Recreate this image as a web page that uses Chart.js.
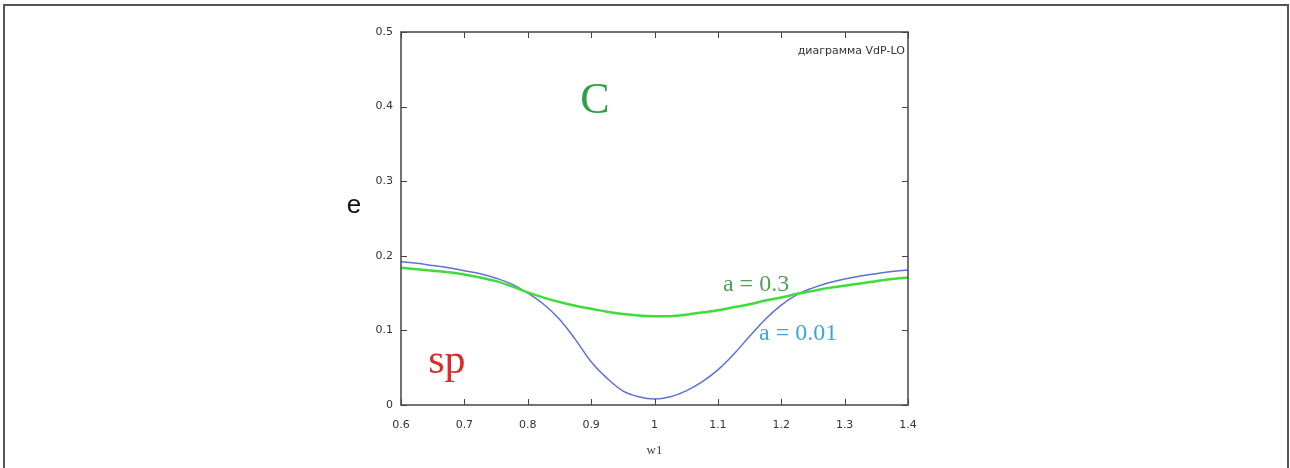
<!DOCTYPE html>
<html>
<head>
<meta charset="utf-8">
<script src="https://cdn.jsdelivr.net/npm/chart.js@4/dist/chart.umd.min.js"></script>
<style>
  html, body { margin: 0; padding: 0; background: #fff; }
  #box { width: 1290px; height: 468px; }
</style>
</head>
<body>
<div id="box"><canvas id="vdp" width="1290" height="468"></canvas></div>
<script>
// frequency w1
const w1 = [0.6, 0.625, 0.65, 0.675, 0.7, 0.725, 0.75, 0.775, 0.8, 0.825, 0.85, 0.875, 0.9, 0.925, 0.95, 0.975,
            1.0, 1.025, 1.05, 1.075, 1.1, 1.125, 1.15, 1.175, 1.2, 1.225, 1.25, 1.275, 1.3, 1.325, 1.35, 1.375, 1.4];
// e for a = 0.01
const eSmall = [0.192, 0.190, 0.187, 0.184, 0.180, 0.176, 0.170, 0.162, 0.150, 0.135, 0.115, 0.088, 0.058, 0.036, 0.019, 0.011,
                0.008, 0.011, 0.019, 0.031, 0.047, 0.068, 0.092, 0.115, 0.134, 0.148, 0.157, 0.164, 0.169, 0.173, 0.176, 0.179, 0.181];
// e for a = 0.3
const eLarge = [0.184, 0.182, 0.180, 0.178, 0.175, 0.171, 0.166, 0.159, 0.151, 0.144, 0.138, 0.133, 0.129, 0.125, 0.122, 0.120,
                0.119, 0.119, 0.121, 0.124, 0.127, 0.131, 0.135, 0.140, 0.144, 0.149, 0.153, 0.157, 0.160, 0.163, 0.166, 0.169, 0.171];

const xTicks = [0.6, 0.7, 0.8, 0.9, 1.0, 1.1, 1.2, 1.3, 1.4];
const xLabels = ['0.6', '0.7', '0.8', '0.9', '1', '1.1', '1.2', '1.3', '1.4'];
const yTicks = [0, 0.1, 0.2, 0.3, 0.4, 0.5];
const yLabels = ['0', '0.1', '0.2', '0.3', '0.4', '0.5'];

// region names and curve captions, placed in data units
const notes = [
  { text: 'C', x: 0.906, y: 0.391, font: '44px "Liberation Serif"', color: '#2f9f45', align: 'center' },
  { text: 'sp', x: 0.643, y: 0.043, font: '42px "Liberation Serif"', color: '#dd2a2a', align: 'left' },
  { text: 'a = 0.3', x: 1.108, y: 0.153, font: '24px "Liberation Serif"', color: '#4f9f58', align: 'left' },
  { text: 'a = 0.01', x: 1.165, y: 0.087, font: '24px "Liberation Serif"', color: '#3aa6dc', align: 'left' },
  { text: 'диаграмма VdP-LO', x: 1.395, y: 0.474, font: '11px "DejaVu Sans"', color: '#333', align: 'right' }
];

const toPoints = ys => w1.map((x, i) => ({ x: x, y: ys[i] }));

const framePlugin = {
  id: 'frame',
  beforeDraw(chart) {
    const c = chart.ctx;
    c.save();
    c.strokeStyle = '#555';
    c.lineWidth = 2;
    c.strokeRect(4, 5, 1284, 520);
    c.restore();
  },
  afterDraw(chart) {
    const c = chart.ctx;
    const a = chart.chartArea;
    const xs = chart.scales.x, ys = chart.scales.y;
    c.save();
    c.strokeStyle = '#444';
    c.lineWidth = 1.5;
    c.strokeRect(a.left, a.top, a.right - a.left, a.bottom - a.top);
    c.lineWidth = 1;
    c.beginPath();
    xTicks.forEach(v => {
      const px = Math.round(xs.getPixelForValue(v)) + 0.5;
      c.moveTo(px, a.bottom); c.lineTo(px, a.bottom - 6);
      c.moveTo(px, a.top); c.lineTo(px, a.top + 6);
    });
    yTicks.forEach(v => {
      const py = Math.round(ys.getPixelForValue(v)) + 0.5;
      c.moveTo(a.left, py); c.lineTo(a.left + 6, py);
      c.moveTo(a.right, py); c.lineTo(a.right - 6, py);
    });
    c.stroke();

    notes.forEach(n => {
      c.font = n.font;
      c.fillStyle = n.color;
      c.textAlign = n.align;
      c.textBaseline = n.align === 'right' ? 'middle' : 'alphabetic';
      c.fillText(n.text, xs.getPixelForValue(n.x), ys.getPixelForValue(n.y));
    });

    // axis names
    c.fillStyle = '#111';
    c.font = '26px "Liberation Sans"';
    c.textAlign = 'center';
    c.textBaseline = 'alphabetic';
    c.fillText('e', a.left - 47, 213);
    c.fillStyle = '#444';
    c.font = '13px "Liberation Serif"';
    c.fillText('w1', (a.left + a.right) / 2, 454);
    c.restore();
  }
};

const chart = new Chart(document.getElementById('vdp'), {
  type: 'line',
  plugins: [framePlugin],
  data: {
    datasets: [
      {
        label: 'a = 0.3',
        data: toPoints(eLarge),
        borderColor: '#3fdc3a',
        borderWidth: 2.5,
        pointRadius: 0,
        tension: 0.4
      },
      {
        label: 'a = 0.01',
        data: toPoints(eSmall),
        borderColor: '#6070d4',
        borderWidth: 1.5,
        pointRadius: 0,
        tension: 0.4
      }
    ]
  },
  options: {
    responsive: false,
    animation: false,
    layout: { padding: { left: 0, right: 382, top: 32, bottom: 0 } },
    plugins: {
      legend: { display: false },
      tooltip: { enabled: false }
    },
    scales: {
      x: {
        type: 'linear',
        min: 0.6,
        max: 1.4,
        afterBuildTicks: s => { s.ticks = xTicks.map(v => ({ value: v })); },
        afterFit: s => { s.height = 63; },
        grid: { display: false, drawTicks: false },
        border: { display: false },
        ticks: {
          padding: 14,
          color: '#333',
          font: { family: 'DejaVu Sans', size: 11 },
          maxRotation: 0,
          callback: (v, i) => xLabels[i]
        }
      },
      y: {
        min: 0,
        max: 0.5,
        afterBuildTicks: s => { s.ticks = yTicks.map(v => ({ value: v })); },
        afterFit: s => { s.width = 401; },
        grid: { display: false, drawTicks: false },
        border: { display: false },
        ticks: {
          padding: 8,
          color: '#333',
          font: { family: 'DejaVu Sans', size: 11 },
          callback: (v, i) => yLabels[i]
        }
      }
    }
  }
});
</script>
</body>
</html>
